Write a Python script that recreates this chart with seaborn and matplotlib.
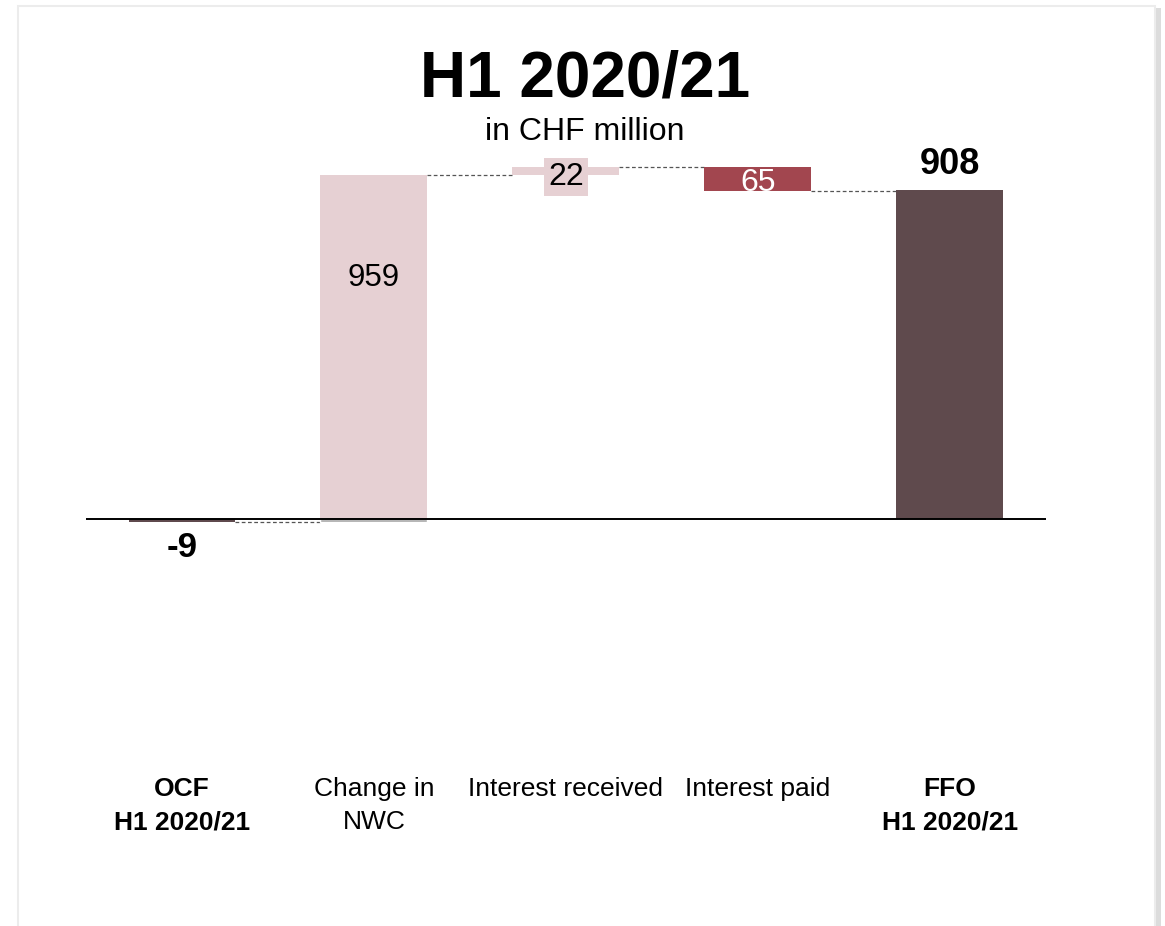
import numpy as np
import pandas as pd
import seaborn as sns
import matplotlib
matplotlib.use("Agg")
import matplotlib.pyplot as plt
from matplotlib.patches import Rectangle

# Bridge from operating cash flow to funds from operations, H1 2020/21 (CHF million)
categories = ["OCF\nH1 2020/21", "Change in\nNWC", "Interest received", "Interest paid", "FFO\nH1 2020/21"]
values = [-9, 959, 22, -65, 908]
kinds = ["total", "delta", "delta", "delta", "total"]
value_labels = ["-9", "959", "22", "65", "908"]
bar_colors = ["#5f4a4d", "#e6d0d3", "#e6d0d3", "#a2464f", "#5f4a4d"]
label_bold = [True, False, False, False, True]

# Floating bar extents
bottoms, tops = [], []
running = 0
for v, k in zip(values, kinds):
    if k == "total":
        lo, hi = min(0, v), max(0, v)
        running = v
    else:
        start = running
        running = running + v
        lo, hi = min(start, running), max(start, running)
    bottoms.append(lo)
    tops.append(hi)

df = pd.DataFrame({"category": categories,
                   "height": np.array(tops) - np.array(bottoms),
                   "bottom": bottoms})

sns.set_theme(style="white")
plt.rcParams["font.family"] = ["Liberation Sans", "DejaVu Sans"]

fig = plt.figure(figsize=(11.65, 9.26), dpi=100)

# Panel frame with a soft shadow on the right
W, H = 1165, 926
fig.patches.append(Rectangle((1155 / W, 0), 6 / W, (H - 8) / H,
                             transform=fig.transFigure, fc="#dcdcdc", ec="none", zorder=-10))
fig.patches.append(Rectangle((18 / W, -0.01), (1155 - 18) / W, (H - 6) / H + 0.01,
                             transform=fig.transFigure, fc="white", ec="#ececec",
                             lw=1.5, zorder=-9))

ax = fig.add_axes([0.0738, 0.3221, 0.824, 0.5084])
ax.set_zorder(1)
ax.patch.set_alpha(0)

sns.barplot(data=df, x="category", y="height", bottom=df["bottom"].to_numpy(),
            order=categories, width=0.557, color=bar_colors[0],
            saturation=1, ax=ax, zorder=2)
for patch, c in zip(ax.patches, bar_colors):
    patch.set_facecolor(c)
    patch.set_edgecolor("none")

# Part of a step bar that dips below the zero line is shaded grey
for i, (lo, hi, k) in enumerate(zip(bottoms, tops, kinds)):
    if k == "delta" and lo < 0 < hi:
        ax.bar(i, -lo, bottom=lo, width=0.557, color="#a6a6a6", zorder=2)

ax.set_xlim(-0.5, 4.5)
ax.set_ylim(-300, 1000)
ax.axhline(0, color="black", lw=1.4, zorder=3)

# Dashed connectors between consecutive bars
half = 0.557 / 2
levels = []
running = 0
for v, k in zip(values, kinds):
    running = v if k == "total" else running + v
    levels.append(running)
for i in range(len(values) - 1):
    ax.plot([i + half, i + 1 - half], [levels[i], levels[i]],
            ls=(0, (3, 2)), color="#555555", lw=0.9, zorder=1)

# Value labels
ax.text(0, -79, value_labels[0], ha="center", va="center",
        fontsize=25, fontweight="bold", color="black")
ax.text(1, tops[1] - 285, value_labels[1], ha="center", va="center",
        fontsize=22.5, color="black")
ax.text(2, (bottoms[2] + tops[2]) / 2 - 16, value_labels[2], ha="center", va="center",
        fontsize=23, color="black", zorder=4,
        bbox=dict(boxstyle="square,pad=0.12", fc="#e6d0d3", ec="none"))
ax.text(3, (bottoms[3] + tops[3]) / 2 - 12, value_labels[3], ha="center", va="center",
        fontsize=23, color="white", zorder=4)
ax.text(4, tops[4] + 70, value_labels[4], ha="center", va="center",
        fontsize=26, fontweight="bold", color="black")

ax.set_xlabel("")
ax.set_ylabel("")
ax.set_xticks([])
ax.set_yticks([])
sns.despine(ax=ax, left=True, bottom=True)

# Category labels below the chart
for i, (cat, b) in enumerate(zip(categories, label_bold)):
    ax.text(i, -711, cat, ha="center", va="top", fontsize=19,
            fontweight="bold" if b else "normal", color="black",
            linespacing=1.52, clip_on=False)

# Titles
fig.text(0.502, 0.914, "H1 2020/21", ha="center", va="center",
         fontsize=46, fontweight="bold", color="black")
fig.text(0.502, 0.857, "in CHF million", ha="center", va="center",
         fontsize=23, color="black")

fig.savefig("out.png", dpi=100)
